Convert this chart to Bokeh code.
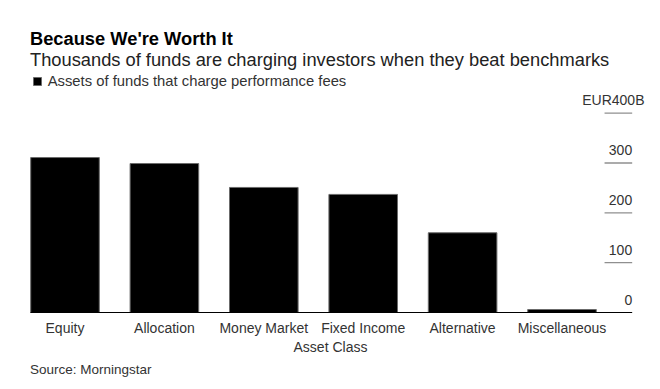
from bokeh.plotting import figure
from bokeh.models import Range1d, FixedTicker, Label, Legend, LegendItem, ColumnDataSource, Title
from bokeh.core.properties import value
from bokeh.embed import file_html
from bokeh.resources import INLINE

# ---- data ----
categories = ["Equity", "Allocation", "Money Market", "Fixed Income", "Alternative", "Miscellaneous"]
assets_bn = [311, 299, 251, 237, 160, 6]
tick_values = [0, 100, 200, 300, 400]
tick_labels = ["0", "100", "200", "300", "EUR400B"]
title_text = "Because We're Worth It"
subtitle_text = "Thousands of funds are charging investors when they beat benchmarks"
legend_text = "Assets of funds that charge performance fees"
axis_title = "Asset Class"
source_text = "Source: Morningstar"

FONT = "Liberation Sans"

p = figure(width=660, height=389, output_backend="svg", toolbar_location=None,
           x_range=Range1d(-0.6489, 5.9909), y_range=Range1d(-2.007, 626.19),
           y_axis_location=None, min_border_left=0, min_border_right=0,
           min_border_top=0, min_border_bottom=76)
p.outline_line_color = None
p.xgrid.visible = False
p.ygrid.visible = False
p.background_fill_color = "white"
p.border_fill_color = "white"

idx = list(range(len(categories)))
src = ColumnDataSource(dict(x=idx, top=assets_bn))
bars = p.vbar(x="x", top="top", bottom=0, width=0.69, source=src,
              fill_color="black", line_color="#6b6b6b", line_width=1)

# baseline
p.segment(x0=[-0.347], x1=[5.706], y0=[0], y1=[0], line_color="black", line_width=1)

# short gridlines at the right
n = len(tick_values) - 1
p.segment(x0=[5.428] * n, x1=[5.706] * n, y0=tick_values[1:], y1=tick_values[1:],
          line_color="#8f8f8f", line_width=1.3)

# tick labels
tsrc = ColumnDataSource(dict(x=[5.706] * len(tick_values), y=tick_values, t=tick_labels,
                             xo=[0, 0, 0, 0, 12.3]))
p.text(x="x", y="y", text="t", x_offset="xo", y_offset=-13, source=tsrc,
       text_align="right", text_baseline="alphabetic",
       text_font=value(FONT), text_font_size="14px", text_color="#333333")

# x axis
ax = p.xaxis[0]
ax.ticker = FixedTicker(ticks=idx)
ax.major_label_overrides = {i: c for i, c in zip(idx, categories)}
ax.axis_line_color = None
ax.major_tick_line_color = None
ax.minor_tick_line_color = None
ax.major_tick_out = 0
ax.major_label_standoff = 6
ax.major_label_text_font = FONT
ax.major_label_text_font_size = "14px"
ax.major_label_text_color = "#333333"
ax.axis_label = axis_title
ax.axis_label_standoff = 0
ax.axis_label_text_font = FONT
ax.axis_label_text_font_size = "14px"
ax.axis_label_text_font_style = "normal"
ax.axis_label_text_color = "#333333"

# source note below the axis
p.add_layout(Title(text=source_text, align="left", offset=29.5, standoff=4,
                   text_font=FONT, text_font_size="13.5px", text_font_style="normal",
                   text_color="#333333"), "below")

# legend
legend = Legend(items=[LegendItem(label=legend_text, renderers=[bars])],
                location=(31.7, 224.5), orientation="vertical",
                glyph_width=10, glyph_height=10, label_height=16, label_standoff=6,
                padding=0, margin=0, spacing=0,
                label_text_font=FONT, label_text_font_size="14.8px", label_text_color="#333333",
                background_fill_alpha=0, border_line_color=None)
p.add_layout(legend)

# titles (placed via the y scale)
def py(page_y):
    return (312 - page_y) / 0.49825

p.add_layout(Label(x=-0.3521, y=py(38.3), text=title_text, text_font=FONT,
                   text_font_size="18.3px", text_font_style="bold", text_color="black",
                   text_baseline="alphabetic"))
p.add_layout(Label(x=-0.3521, y=py(59.3), text=subtitle_text, text_font=FONT,
                   text_font_size="18.3px", text_color="#222222", text_baseline="alphabetic"))

open("out.html", "w").write(file_html(p, INLINE))
